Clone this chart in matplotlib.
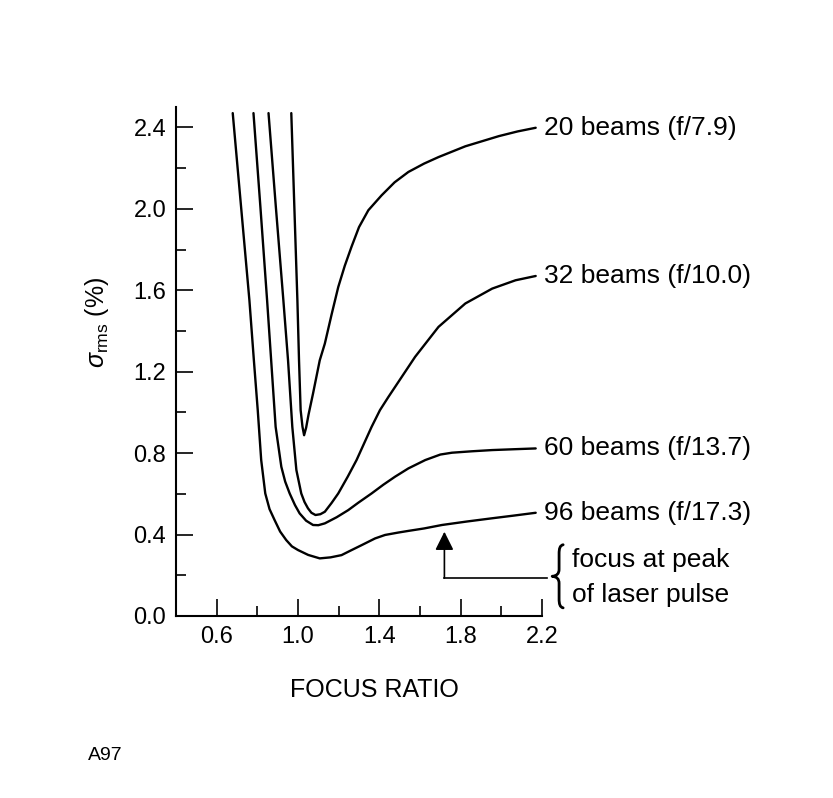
import matplotlib
matplotlib.use("Agg")
import matplotlib.pyplot as plt
from matplotlib.ticker import FixedLocator
from matplotlib.path import Path
from matplotlib.patches import PathPatch

plt.rcParams['font.family'] = ['Liberation Sans', 'DejaVu Sans']
plt.rcParams['mathtext.fontset'] = 'custom'
plt.rcParams['mathtext.rm'] = 'Liberation Sans'
plt.rcParams['mathtext.it'] = 'Liberation Sans:italic'

# ---- data ----
x20 = [0.967, 0.982, 0.997, 1.005, 1.013, 1.022, 1.030, 1.040, 1.052, 1.074, 1.107, 1.132,
       1.165, 1.198, 1.230, 1.263, 1.300, 1.346, 1.411, 1.475, 1.543, 1.620, 1.691, 1.823,
       1.988, 2.080, 2.169]
y20 = [2.47, 2.01, 1.551, 1.256, 1.011, 0.930, 0.888, 0.925, 0.990, 1.093, 1.256, 1.338,
       1.480, 1.616, 1.720, 1.813, 1.910, 1.993, 2.066, 2.130, 2.181, 2.222, 2.254, 2.307,
       2.357, 2.380, 2.398]

x32 = [0.855, 0.891, 0.928, 0.951, 0.972, 0.992, 1.016, 1.032, 1.049, 1.066, 1.086, 1.110,
       1.132, 1.165, 1.198, 1.245, 1.288, 1.362, 1.403, 1.444, 1.494, 1.576, 1.691, 1.823,
       1.955, 2.070, 2.169]
y32 = [2.47, 2.01, 1.551, 1.256, 0.929, 0.717, 0.602, 0.560, 0.529, 0.507, 0.496, 0.500,
       0.512, 0.555, 0.602, 0.685, 0.766, 0.929, 1.011, 1.075, 1.150, 1.273, 1.420, 1.535,
       1.608, 1.649, 1.670]

x60 = [0.781, 0.815, 0.848, 0.868, 0.890, 0.918, 0.937, 0.959, 0.985, 1.008, 1.040, 1.074,
       1.100, 1.132, 1.190, 1.247, 1.296, 1.362, 1.420, 1.477, 1.543, 1.626, 1.700, 1.757,
       1.855, 1.955, 2.060, 2.169]
y60 = [2.47, 2.01, 1.551, 1.256, 0.929, 0.733, 0.660, 0.602, 0.545, 0.504, 0.468, 0.447,
       0.446, 0.455, 0.485, 0.520, 0.556, 0.602, 0.645, 0.684, 0.725, 0.766, 0.793, 0.802,
       0.809, 0.815, 0.819, 0.823]

x96 = [0.679, 0.720, 0.761, 0.783, 0.802, 0.819, 0.839, 0.860, 0.885, 0.912, 0.942, 0.970,
       1.000, 1.050, 1.107, 1.160, 1.214, 1.260, 1.313, 1.379, 1.428, 1.494, 1.543, 1.620,
       1.708, 1.830, 1.955, 2.060, 2.169]
y96 = [2.47, 2.01, 1.551, 1.256, 1.011, 0.766, 0.602, 0.525, 0.471, 0.415, 0.373, 0.342,
       0.324, 0.300, 0.283, 0.288, 0.299, 0.322, 0.348, 0.381, 0.398, 0.410, 0.418, 0.430,
       0.447, 0.464, 0.480, 0.493, 0.507]

labels = ["20 beams (f/7.9)", "32 beams (f/10.0)", "60 beams (f/13.7)", "96 beams (f/17.3)"]

xmajor = [0.6, 1.0, 1.4, 1.8, 2.2]
xminor = [0.8, 1.2, 1.6, 2.0]
ymajor = [0.0, 0.4, 0.8, 1.2, 1.6, 2.0, 2.4]
yminor = [0.2, 0.6, 1.0, 1.4, 1.8, 2.2]

arrow_x = 1.72
arrow_tip = 0.414
arrow_base = 0.186
note_lines = ["focus at peak", "of laser pulse"]

# ---- figure ----
fig = plt.figure(figsize=(8.33, 7.98), dpi=100)
ax = fig.add_axes([176/833, 1-616/798, 366/833, 509/798])

for xs, ys, lab in zip([x20, x32, x60, x96], [y20, y32, y60, y96], labels):
    ax.plot(xs, ys, color='black', lw=1.7, solid_joinstyle='round', solid_capstyle='round')
    ax.text(xs[-1] + 0.04, ys[-1], lab, fontsize=19, va='center', ha='left', clip_on=False)

ax.set_xlim(0.4, 2.2)
ax.set_ylim(0.0, 2.5)
for s in ['top', 'right']:
    ax.spines[s].set_visible(False)
for s in ['left', 'bottom']:
    ax.spines[s].set_linewidth(1.5)

ax.xaxis.set_major_locator(FixedLocator(xmajor))
ax.xaxis.set_minor_locator(FixedLocator(xminor))
ax.yaxis.set_major_locator(FixedLocator(ymajor))
ax.yaxis.set_minor_locator(FixedLocator(yminor))
ax.set_xticklabels([f"{v:.1f}" for v in xmajor])
ax.set_yticklabels([f"{v:.1f}" for v in ymajor])
ax.tick_params(which='major', direction='in', length=12, width=1.2, labelsize=17, pad=7)
ax.tick_params(which='minor', direction='in', length=7.5, width=1.2)

# annotation arrow and note
ax.annotate('', xy=(arrow_x, arrow_tip), xytext=(arrow_x, arrow_base),
            arrowprops=dict(arrowstyle='-|>', mutation_scale=28, lw=1.2, color='black',
                            shrinkA=0, shrinkB=0), annotation_clip=False)
ax.plot([arrow_x, 2.225], [arrow_base, arrow_base], color='black', lw=1.2, clip_on=False)

# curly brace drawn as a path
bx, bt, bb, bm = 2.284, 0.350, 0.040, 0.195
verts = [(2.304, bt), (2.288, bt - 0.004), (bx, bt - 0.018), (bx, bt - 0.045),
         (bx, bm + 0.035),
         (bx, bm + 0.012), (2.272, bm + 0.002), (2.250, bm),
         (2.272, bm - 0.002), (bx, bm - 0.012), (bx, bm - 0.035),
         (bx, bb + 0.045),
         (bx, bb + 0.018), (2.288, bb + 0.004), (2.304, bb)]
codes = [Path.MOVETO, Path.CURVE4, Path.CURVE4, Path.CURVE4,
         Path.LINETO,
         Path.CURVE4, Path.CURVE4, Path.CURVE4,
         Path.CURVE4, Path.CURVE4, Path.CURVE4,
         Path.LINETO,
         Path.CURVE4, Path.CURVE4, Path.CURVE4]
ax.add_patch(PathPatch(Path(verts, codes), facecolor='none', edgecolor='black', lw=2.0,
                       clip_on=False, capstyle='round', joinstyle='round'))

ax.text(2.35, 0.275, note_lines[0], fontsize=19, va='center', ha='left', clip_on=False)
ax.text(2.35, 0.103, note_lines[1], fontsize=19, va='center', ha='left', clip_on=False)

fig.text(374/833, 1-690/798, "FOCUS RATIO", fontsize=18, ha='center', va='center')
fig.text(97/833, 1-322/798, r"$\sigma_{\mathrm{rms}}$ (%)", fontsize=18, rotation=90,
         ha='center', va='center')
fig.text(88/833, 1-755/798, "A97", fontsize=14, ha='left', va='center')

fig.savefig("out.png", dpi=100, facecolor='white')
